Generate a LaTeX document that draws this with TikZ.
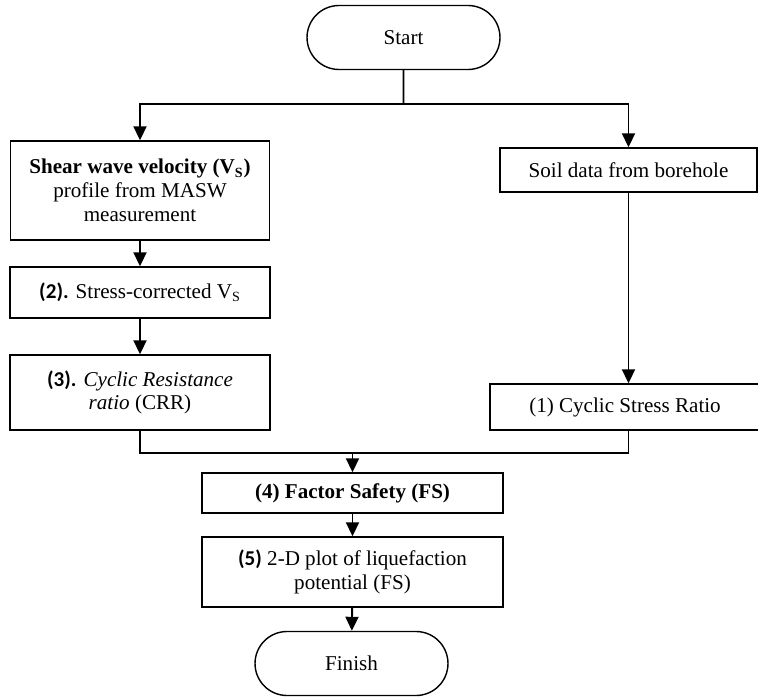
\documentclass[tikz,border=0pt]{standalone}
\usepackage{fontspec}
\setmainfont{Liberation Serif}
\newfontfamily\calib{Carlito}
\usetikzlibrary{positioning,shapes.misc,arrows.meta}
\newcommand{\stepno}[1]{{\calib\bfseries #1}}
\newcommand{\Vsub}{V\textsubscript{S}}
\tikzset{
  box/.style={draw=black,line width=0.8pt,align=center,inner sep=2pt,
              font=\fontsize{12}{13.5}\selectfont},
  term/.style={box,rounded rectangle,minimum width=4.0cm,minimum height=1.28cm},
  arrow/.style={-{Triangle[length=2.8mm,width=2.6mm]},line width=1.1pt},
  link/.style={line width=1.1pt},
}

\begin{document}
\begin{tikzpicture}
  \useasboundingbox (0,0) rectangle (15.16,-13.98);
  % start and finish
  \node[term] (start) at (8.07,-0.75) {Start};
  \node[term] (finish) at (7.03,-13.27) {Finish};
  % left column
  \node[box,minimum width=5.18cm,minimum height=1.98cm] (vs) at (2.8,-3.81)
    {\textbf{Shear wave velocity (\Vsub)}\\profile from MASW\\measurement};
  \node[box,minimum width=5.2cm,minimum height=1.02cm] (crs) at (2.8,-5.85)
    {\stepno{(2).} Stress-corrected \Vsub};
  \node[box,minimum width=5.2cm,minimum height=1.5cm] (crr) at (2.8,-7.85)
    {\stepno{(3).} \textit{Cyclic Resistance}\\\textit{ratio} (CRR)};
  % right column
  \node[box,minimum width=5.14cm,minimum height=0.88cm] (soil) at (12.57,-3.4)
    {Soil data from borehole};
  \node[box,minimum width=5.4cm,minimum height=0.92cm] (csr) at (12.5,-8.14)
    {(1) Cyclic Stress Ratio};
  % centre column
  \node[box,minimum width=6.02cm,minimum height=0.8cm] (fs) at (7.05,-9.86)
    {\textbf{(4) Factor Safety (FS)}};
  \node[box,minimum width=6.02cm,minimum height=1.4cm] (plot) at (7.05,-11.44)
    {\stepno{(5)} 2-D plot of liquefaction\\potential (FS)};

  \coordinate (split) at (8.07,-2.08);
  \coordinate (join) at (7.05,-9.06);

  \draw[link] (start) -- (split);
  \draw[arrow] (split) -| (vs);
  \draw[arrow] (split) -| (soil);
  \draw[arrow] (vs) -- (crs);
  \draw[arrow] (crs) -- (crr);
  \draw[arrow] (soil.south) -- (soil.south |- csr.north);
  \draw[link] (crr.south) |- (join);
  \draw[link] (soil.south |- csr.south) |- (join);
  \draw[arrow] (join) -- (fs);
  \draw[arrow] (fs) -- (plot);
  \draw[arrow] (plot) -- (finish);
\end{tikzpicture}
\end{document}
